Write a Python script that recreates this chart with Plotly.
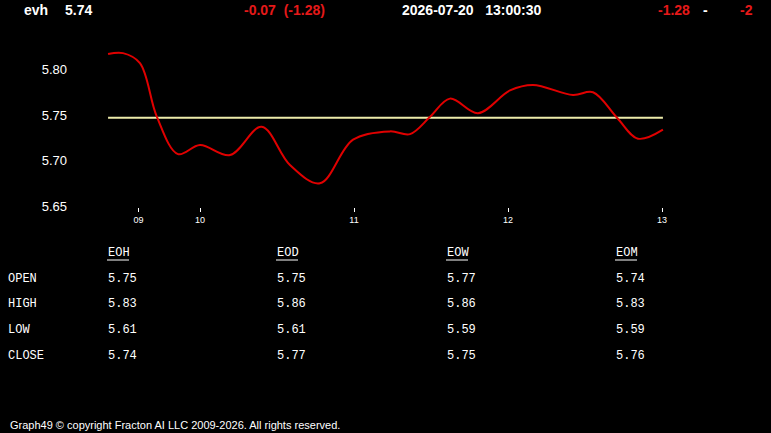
import plotly.graph_objects as go

W, H = 771, 433

# ---- data ----
hours = [9.403, 9.50, 9.61, 9.72, 9.857, 10.0, 10.195, 10.40, 10.584, 10.779, 10.994,
         11.234, 11.364, 11.494, 11.623, 11.805, 12.013, 12.162, 12.422, 12.552, 12.708,
         12.844, 13.006]
prices = [5.817, 5.818, 5.807, 5.748, 5.707, 5.717, 5.706, 5.737, 5.695, 5.675, 5.723,
          5.732, 5.729, 5.748, 5.768, 5.752, 5.777, 5.783, 5.772, 5.775, 5.747,
          5.724, 5.734]
ref_level = 5.747
tick_vals = [9.6, 10, 11, 12, 13]
tick_text = ["09", "10", "11", "12", "13"]
y_ticks = [5.65, 5.70, 5.75, 5.80]

symbol = "evh"
last = "5.74"
change = "-0.07  (-1.28)"
stamp = "2026-07-20   13:00:30"
right_vals = ["-1.28", "-", "-2"]

table_cols = ["EOH", "EOD", "EOW", "EOM"]
table_rows = ["OPEN", "HIGH", "LOW", "CLOSE"]
table_vals = [
    ["5.75", "5.75", "5.77", "5.74"],
    ["5.83", "5.86", "5.86", "5.83"],
    ["5.61", "5.61", "5.59", "5.59"],
    ["5.74", "5.77", "5.75", "5.76"],
]
footer = "Graph49 \u00a9 copyright Fracton AI LLC 2009-2026. All rights reserved."

RED = "#e51919"
WHITE = "#ffffff"

def px(x):
    return x / W

def py(y):
    return 1 - y / H

fig = go.Figure()
fig.add_trace(go.Scatter(x=[hours[0], hours[-1]], y=[ref_level, ref_level], mode="lines",
                         line=dict(color="#ecebaa", width=2), hoverinfo="skip"))
fig.add_trace(go.Scatter(x=hours, y=prices, mode="lines",
                         line=dict(color="#e00000", width=2, shape="spline", smoothing=1.0),
                         hoverinfo="skip"))

x_left, x_right = 100, 680
y_top, y_bot = 40, 207
def hour_at(pix):
    return 10 + (pix - 200) / 154.0
def val_at(pix):
    return 5.75 + (115 - pix) / 910.0

fig.update_layout(
    width=W, height=H, margin=dict(l=0, r=0, t=0, b=0, autoexpand=False),
    paper_bgcolor="black", plot_bgcolor="black", showlegend=False,
    xaxis=dict(domain=[px(x_left), px(x_right)], range=[hour_at(x_left), hour_at(x_right)],
               showgrid=False, zeroline=False, showline=False, automargin=False,
               tickvals=tick_vals, ticktext=tick_text, ticks="outside", ticklen=4,
               tickwidth=1, tickcolor=WHITE,
               tickfont=dict(family="Arial", size=9, color=WHITE)),
    yaxis=dict(domain=[py(y_bot), py(y_top)], range=[val_at(y_bot), val_at(y_top)],
               anchor="free", position=px(67), showgrid=False, zeroline=False, showline=False,
               automargin=False,
               tickvals=y_ticks, ticktext=[f"{v:.2f}" for v in y_ticks], ticks="",
               tickfont=dict(family="Arial", size=13, color=WHITE)),
)

ann = []
def txt(x, y, s, color=WHITE, size=14, family="Arial", bold=False, xanchor="left"):
    ann.append(dict(x=px(x), y=py(y), xref="paper", yref="paper", text=(f"<b>{s}</b>" if bold else s),
                    showarrow=False, xanchor=xanchor, yanchor="middle",
                    font=dict(family=family, size=size, color=color)))

# header
txt(22, 10, symbol, bold=True)
txt(63, 10, last, bold=True)
txt(242, 10, change.replace("  ", "&nbsp; "), color=RED, bold=True)
txt(400, 10, stamp.replace("   ", "&nbsp;&nbsp; "), bold=True)
txt(656, 10, right_vals[0], color=RED, bold=True)
txt(701, 10, right_vals[1], bold=True)
txt(738, 10, right_vals[2], color=RED, bold=True)

# table
MONO = "Liberation Mono"
col_x = [106, 275, 445, 614]
row_y = [279, 304, 330, 356]
shapes = []
for cx, name in zip(col_x, table_cols):
    txt(cx, 253, name, size=12, family=MONO)
    shapes.append(dict(type="line", xref="paper", yref="paper", x0=px(cx + 1), x1=px(cx + 23),
                       y0=py(260), y1=py(260), line=dict(color=WHITE, width=1)))
for ry, rname, vals in zip(row_y, table_rows, table_vals):
    txt(6, ry, rname, size=12, family=MONO)
    for cx, v in zip(col_x, vals):
        txt(cx, ry, v, size=12, family=MONO)

txt(8, 425, footer, size=11)

fig.update_layout(annotations=ann, shapes=shapes)
fig.write_html("out.html")
